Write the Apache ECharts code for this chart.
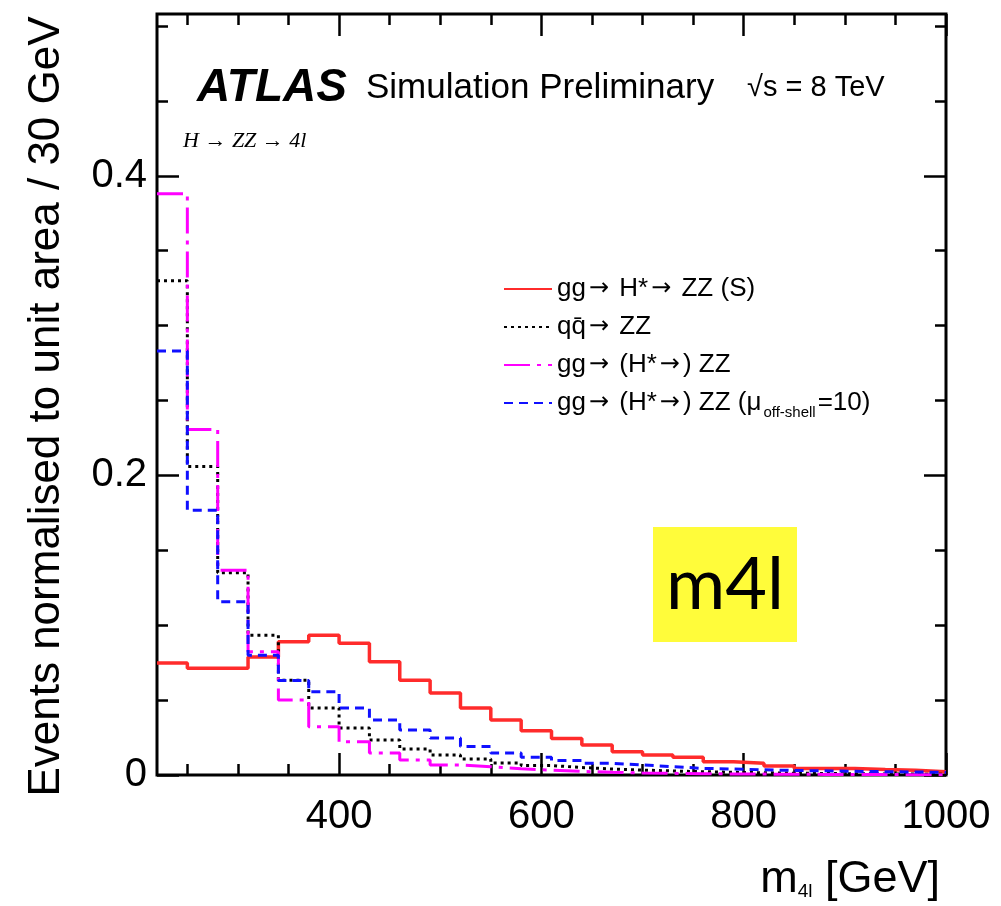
<!DOCTYPE html>
<html>
<head>
<meta charset="utf-8">
<script src="https://cdn.jsdelivr.net/npm/echarts@6/dist/echarts.min.js"></script>
<style>
  html, body { margin: 0; padding: 0; background: #ffffff; }
  #chart { width: 1001px; height: 906px; }
</style>
</head>
<body>
<div id="chart"></div>
<script>
// m4l histograms, 30 GeV bins from 220 to 1000 GeV, each normalised to unit area
const binLowEdges = [220, 250, 280, 310, 340, 370, 400, 430, 460, 490, 520, 550, 580,
                     610, 640, 670, 700, 730, 760, 790, 820, 850, 880, 910, 940, 970];
const binUpperEnd = 1000;

// gg -> H* -> ZZ (S)
const signalS = [0.0747, 0.0713, 0.0713, 0.0787, 0.0889, 0.0933, 0.0880, 0.0756, 0.0633,
                 0.0547, 0.0447, 0.0367, 0.0296, 0.0244, 0.0200, 0.0156, 0.0133, 0.0118,
                 0.0089, 0.0078, 0.0060, 0.0044, 0.0044, 0.0036, 0.0031, 0.0022];
// q qbar -> ZZ
const qqZZ = [0.330, 0.206, 0.135, 0.0933, 0.0633, 0.0447, 0.0313, 0.0233, 0.0173,
              0.0133, 0.0107, 0.0080, 0.0063, 0.0050, 0.0040, 0.0033, 0.0027, 0.0022,
              0.0018, 0.0015, 0.0012, 0.0010, 0.0008, 0.0007, 0.0006, 0.0005];
// gg -> (H* ->) ZZ
const ggZZ = [0.388, 0.2307, 0.1367, 0.0822, 0.0500, 0.0322, 0.0222, 0.0147, 0.0100,
              0.0067, 0.0055, 0.0042, 0.0032, 0.0024, 0.0018, 0.0014, 0.0011, 0.0009,
              0.0007, 0.0006, 0.0005, 0.0004, 0.0003, 0.0003, 0.0002, 0.0002];
// gg -> (H* ->) ZZ with mu_off-shell = 10
const ggZZmu10 = [0.283, 0.1767, 0.1156, 0.0800, 0.0630, 0.0556, 0.0447, 0.0367, 0.0300,
                  0.0247, 0.0190, 0.0147, 0.0118, 0.0096, 0.0078, 0.0067, 0.0056, 0.0044,
                  0.0040, 0.0035, 0.0030, 0.0028, 0.0025, 0.0022, 0.0020, 0.0018];

const xMajorTicks = [400, 600, 800, 1000];
const xMinorTicks = [250, 300, 350, 450, 500, 550, 650, 700, 750, 850, 900, 950];
const yMajorTicks = [0, 0.2, 0.4];
const yMinorTicks = [0.05, 0.1, 0.15, 0.25, 0.3, 0.35, 0.45, 0.5];

const seriesNames = ['gg→ H*→ ZZ (S)', 'qq̄→ ZZ', 'gg→ (H*→) ZZ', 'gg→ (H*→) ZZ (μoff-shell=10)'];

const X_MIN = 220, X_MAX = 1000, Y_MIN = 0, Y_MAX = 0.508;
const FONT = '"Liberation Sans", Arial, Helvetica, sans-serif';

// histogram outline: one point per bin low edge plus the closing upper edge
function stepPoints(values) {
  const pts = binLowEdges.map((x, i) => [x, values[i]]);
  pts.push([binUpperEnd, values[values.length - 1]]);
  return pts;
}

function xAxisDef(position, ticks, len, withLabels) {
  return {
    type: 'value', position: position, min: X_MIN, max: X_MAX,
    axisLine: { show: false, onZero: false },
    axisTick: { show: true, inside: true, length: len, customValues: ticks,
                lineStyle: { color: '#000', width: 2.5 } },
    axisLabel: withLabels ? {
      show: true, customValues: ticks, margin: 22,
      fontFamily: FONT, fontSize: 40, color: '#000',
      formatter: v => String(v)
    } : { show: false },
    splitLine: { show: false }, minorTick: { show: false }
  };
}

function yAxisDef(position, ticks, len, withLabels) {
  return {
    type: 'value', position: position, min: Y_MIN, max: Y_MAX,
    axisLine: { show: false, onZero: false },
    axisTick: { show: true, inside: true, length: len, customValues: ticks,
                lineStyle: { color: '#000', width: 2.5 } },
    axisLabel: withLabels ? {
      show: true, customValues: ticks, margin: 10,
      fontFamily: FONT, fontSize: 40, color: '#000',
      formatter: v => (v === 0 ? '0' : v.toFixed(1))
    } : { show: false },
    splitLine: { show: false }, minorTick: { show: false }
  };
}

const xAxes = [
  xAxisDef('bottom', xMajorTicks, 22, true),
  xAxisDef('bottom', xMinorTicks, 11, false),
  xAxisDef('top', xMajorTicks, 22, false),
  xAxisDef('top', xMinorTicks, 11, false)
];
xAxes[0].name = '{m|m}{s|4l}{m| [GeV]}';
xAxes[0].nameLocation = 'end';
xAxes[0].nameGap = -6;
xAxes[0].nameTextStyle = {
  align: 'right', verticalAlign: 'top', padding: [82, 0, 0, 0],
  fontFamily: FONT, color: '#000',
  rich: {
    m: { fontFamily: FONT, fontSize: 45, color: '#000' },
    s: { fontFamily: FONT, fontSize: 19, color: '#000', padding: [25, 0, 0, 0] }
  }
};

const yAxes = [
  yAxisDef('left', yMajorTicks, 22, true),
  yAxisDef('left', yMinorTicks, 11, false),
  yAxisDef('right', yMajorTicks, 22, false),
  yAxisDef('right', yMinorTicks, 11, false)
];
yAxes[0].name = 'Events normalised to unit area / 30 GeV';
yAxes[0].nameLocation = 'middle';
yAxes[0].nameRotate = 90;
yAxes[0].nameGap = 88;
yAxes[0].nameTextStyle = { fontFamily: FONT, fontSize: 44, color: '#000', padding: [0, 24, 0, 0] };

function histSeries(name, values, color, type, width, z) {
  return {
    name: name, type: 'line', step: 'end', data: stepPoints(values),
    xAxisIndex: 0, yAxisIndex: 0, symbol: 'none', showSymbol: false,
    animation: false, z: z, clip: true,
    lineStyle: { color: color, width: width, type: type },
    itemStyle: { color: color }
  };
}

// legend labels: wider arrow glyph, and the off-shell subscript
function legendLabel(name) {
  const arrows = s => s.split('→').map(p => (p ? '{t|' + p + '}' : '')).join('{a|→}');
  if (name === seriesNames[3]) {
    return arrows('gg→ (H*→) ZZ (μ') + '{sub|off-shell}{t|=10)}';
  }
  return arrows(name);
}

const option = {
  backgroundColor: '#ffffff',
  animation: false,
  grid: {
    left: 157, right: 55, top: 14, bottom: 131,
    show: true, borderColor: '#000', borderWidth: 3, backgroundColor: 'transparent',
    containLabel: false, outerBoundsMode: 'none'
  },
  xAxis: xAxes,
  yAxis: yAxes,
  legend: {
    orient: 'vertical', left: 498, top: 271, itemGap: 12,
    itemWidth: 48, itemHeight: 14,
    data: seriesNames,
    itemStyle: { opacity: 0 },
    textStyle: {
      fontFamily: FONT, fontSize: 26, color: '#000',
      rich: {
        t: { fontFamily: FONT, fontSize: 26, color: '#000' },
        a: { fontFamily: '"DejaVu Sans", sans-serif', fontSize: 24, color: '#000',
             padding: [0, 3, 0, 3] },
        sub: { fontFamily: FONT, fontSize: 15, color: '#000', padding: [20, 2, 0, 2] }
      }
    },
    formatter: legendLabel
  },
  graphic: [
    { type: 'text', left: 197, top: 65, z: 10,
      style: { text: 'ATLAS', fontFamily: FONT, fontSize: 46, fontWeight: 'bold',
               fontStyle: 'italic', fill: '#000' } },
    { type: 'text', left: 366, top: 71, z: 10,
      style: { text: 'Simulation Preliminary', fontFamily: FONT, fontSize: 35, fill: '#000' } },
    { type: 'text', left: 747, top: 73, z: 10,
      style: { text: '√s = 8 TeV', fontFamily: FONT, fontSize: 29, fill: '#000' } },
    { type: 'text', left: 183, top: 130, z: 10,
      style: { text: 'H → ZZ → 4l', fontFamily: '"Liberation Serif", "Times New Roman", serif',
               fontStyle: 'italic', fontSize: 22, fill: '#000' } },
    { type: 'rect', z: 10, shape: { x: 653, y: 527, width: 144, height: 115 },
      style: { fill: '#fffc3a' } },
    { type: 'text', z: 11, x: 725, y: 586,
      style: { text: 'm4l', fontFamily: 'Lato, "Open Sans", sans-serif', fontSize: 72,
               fill: '#000', align: 'center', verticalAlign: 'middle' } }
  ],
  series: [
    histSeries(seriesNames[0], signalS, '#ff2b2b', 'solid', 3.5, 2),
    histSeries(seriesNames[1], qqZZ, '#000000', [3, 4], 3, 3),
    histSeries(seriesNames[2], ggZZ, '#ff00ff', [26, 7, 4, 7], 3, 4),
    histSeries(seriesNames[3], ggZZmu10, '#1010ff', [9, 6], 3, 5)
  ]
};

const chart = echarts.init(document.getElementById('chart'), null, { renderer: 'canvas' });
chart.setOption(option);
</script>
</body>
</html>
